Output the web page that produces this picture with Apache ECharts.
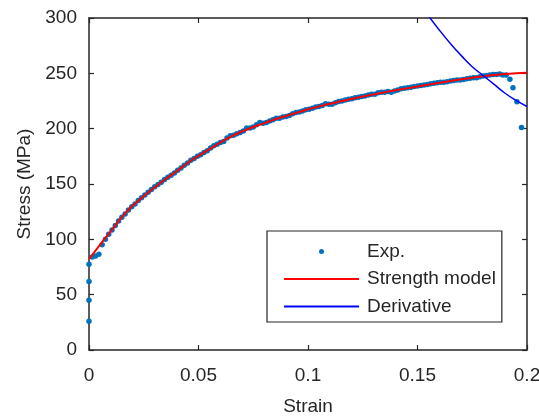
<!DOCTYPE html>
<html>
<head>
<meta charset="utf-8">
<script src="https://cdn.jsdelivr.net/npm/echarts@6/dist/echarts.min.js"></script>
<style>
  html, body { margin: 0; padding: 0; background: #fff; }
  #main { width: 539px; height: 417px; }
</style>
</head>
<body>
<div id="main"></div>
<script>
// experimental points (strain, stress in MPa)
var expStrain = [
  0, 0, 0, 0, 0.0015, 0.003, 0.0045, 0.006, 0.0075, 0.009, 0.0105, 0.012, 0.0135, 0.015, 0.0165,
  0.018, 0.0195, 0.021, 0.0225, 0.024, 0.0255, 0.027, 0.0285, 0.03, 0.0315, 0.033, 0.0345, 0.036,
  0.0375, 0.039, 0.0405, 0.042, 0.0435, 0.045, 0.0465, 0.048, 0.0495, 0.051, 0.0525, 0.054, 0.0555,
  0.057, 0.0585, 0.06, 0.0615, 0.063, 0.0645, 0.066, 0.0675, 0.069, 0.0705, 0.072, 0.0735, 0.075,
  0.0765, 0.078, 0.0795, 0.081, 0.0825, 0.084, 0.0855, 0.087, 0.0885, 0.09, 0.0915, 0.093, 0.0945,
  0.096, 0.0975, 0.099, 0.1005, 0.102, 0.1035, 0.105, 0.1065, 0.108, 0.1095, 0.111, 0.1125, 0.114,
  0.1155, 0.117, 0.1185, 0.12, 0.1215, 0.123, 0.1245, 0.126, 0.1275, 0.129, 0.1305, 0.132, 0.1335,
  0.135, 0.1365, 0.138, 0.1395, 0.141, 0.1425, 0.144, 0.1455, 0.147, 0.1485, 0.15, 0.1515, 0.153,
  0.1545, 0.156, 0.1575, 0.159, 0.1605, 0.162, 0.1635, 0.165, 0.1665, 0.168, 0.1695, 0.171, 0.1725,
  0.174, 0.1755, 0.177, 0.1785, 0.18, 0.1815, 0.183, 0.1845, 0.186, 0.1875, 0.189, 0.1905, 0.1922,
  0.1936, 0.1954, 0.1975
];
var expStress = [
  26, 45, 62, 77.5, 84, 85, 86.5, 95, 100, 104.5, 108.5, 112.5, 116.5, 120, 123,
  126.5, 129.5, 132, 135, 137.5, 140, 142.5, 145, 147.5, 149.5, 151.5, 154, 156,
  158, 160, 162.5, 164.5, 167, 169, 171.5, 173, 175, 176.5, 178.5, 180, 182.5,
  184.5, 186, 187.5, 188.5, 191.5, 193.5, 194, 195.5, 196.5, 198, 200.5, 200.5, 201.5,
  203.5, 205.5, 205, 205.5, 207, 208, 209.5, 209.5, 210.5, 211, 212, 213.5, 214.5,
  215, 216, 217, 217.5, 218.5, 219.5, 220, 221, 222.5, 222, 222, 223.5, 224.5,
  225, 226, 226.5, 227, 228, 228.5, 229, 229.5, 230.5, 231, 231, 232.5, 233,
  233, 233.5, 233, 234, 235, 236, 236.5, 237, 237.5, 238, 238.5, 239, 239.5,
  240, 240.5, 241, 241.5, 242, 242, 242.5, 243, 243.5, 244, 244, 244.5, 245,
  245.5, 246, 246, 247, 247.5, 248, 248.5, 249, 249, 249.5, 248.5, 248.5, 244.6,
  237, 224.4, 201
];

// strength model curve
var modelStrain = [0, 0.005, 0.01, 0.015, 0.02, 0.025, 0.03, 0.035, 0.04, 0.045, 0.05, 0.055, 0.06,
  0.065, 0.07, 0.075, 0.08, 0.085, 0.09, 0.095, 0.1, 0.105, 0.11, 0.115, 0.12, 0.125, 0.13, 0.135,
  0.14, 0.145, 0.15, 0.155, 0.16, 0.165, 0.17, 0.175, 0.18, 0.185, 0.19, 0.195, 0.2];
var modelStress = [82, 95, 107.5, 120, 130.5, 139, 147, 154.5, 161.5, 169, 175.5, 181.5, 187.5,
  193, 197.5, 201.5, 205, 208.5, 211.5, 214.5, 217.5, 220, 222.5, 224.7, 227, 229, 231, 233,
  234.8, 236.4, 238.1, 239.8, 241.4, 243, 244.6, 246, 247.3, 248.4, 249.3, 250, 250.6];

// derivative curve
var derivStrain = [0.155, 0.16, 0.165, 0.17, 0.175, 0.18, 0.185, 0.19, 0.195, 0.2];
var derivStress = [302, 289, 277, 266, 256, 248, 240, 232, 225.5, 220];

var xTicks = { min: 0, max: 0.2, interval: 0.05 };
var yTicks = { min: 0, max: 300, interval: 50 };

function pairs(xs, ys) {
  return xs.map(function (x, i) { return [x, ys[i]]; });
}

var textColor = '#262626';
var fontFam = '"Liberation Sans", Arial, Helvetica, sans-serif';

function mkAxis(ticks, pos, showLabel, extra) {
  var ax = {
    type: 'value',
    position: pos,
    min: ticks.min,
    max: ticks.max,
    interval: ticks.interval,
    splitLine: { show: false },
    axisLine: { show: true, onZero: false, lineStyle: { color: textColor, width: 1.5 } },
    axisTick: { show: true, inside: true, length: 5, lineStyle: { color: textColor, width: 1.2 } },
    axisLabel: {
      show: showLabel,
      color: textColor,
      fontSize: 19,
      fontFamily: fontFam,
      margin: 12,
      showMinLabel: true,
      showMaxLabel: true
    }
  };
  for (var k in extra) ax[k] = extra[k];
  return ax;
}

var xBottom = mkAxis(xTicks, 'bottom', true, {
  name: 'Strain',
  nameLocation: 'middle',
  nameGap: 47,
  nameTextStyle: { color: textColor, fontSize: 19, fontFamily: fontFam }
});
xBottom.axisLabel.margin = 16;

var yLeft = mkAxis(yTicks, 'left', true, {
  name: 'Stress (MPa)',
  nameLocation: 'middle',
  nameGap: 54,
  nameTextStyle: { color: textColor, fontSize: 19, fontFamily: fontFam }
});
yLeft.axisLabel.padding = [7, 0, 0, 0];

// legend: line entries show only the line, no marker
var hideMarker = { opacity: 0, borderWidth: 0 };

var chart = echarts.init(document.getElementById('main'));
chart.setOption({
  animation: false,
  backgroundColor: '#fff',
  grid: { left: 89, right: 12, top: 18, bottom: 67, containLabel: false, outerBoundsMode: 'none' },
  xAxis: [xBottom, mkAxis(xTicks, 'top', false, {})],
  yAxis: [yLeft, mkAxis(yTicks, 'right', false, {})],
  legend: {
    orient: 'vertical',
    left: 267,
    top: 231,
    padding: [11, 6, 6, 16],
    itemWidth: 75,
    itemHeight: 5,
    itemGap: 8.5,
    backgroundColor: '#fff',
    borderColor: textColor,
    borderWidth: 1.2,
    borderRadius: 0,
    textStyle: { color: textColor, fontSize: 19, lineHeight: 19, fontFamily: fontFam, padding: [0, 0, 0, 3] },
    data: [
      { name: 'Exp.', icon: 'circle' },
      { name: 'Strength model', itemStyle: hideMarker },
      { name: 'Derivative', itemStyle: hideMarker }
    ]
  },
  series: [
    {
      name: 'Exp.',
      type: 'scatter',
      symbolSize: 5.5,
      itemStyle: { color: '#0072BD', opacity: 1 },
      data: pairs(expStrain, expStress)
    },
    {
      name: 'Strength model',
      type: 'line',
      symbol: 'none',
      smooth: true,
      lineStyle: { color: '#FF0000', width: 2 },
      itemStyle: { color: '#FF0000' },
      data: pairs(modelStrain, modelStress)
    },
    {
      name: 'Derivative',
      type: 'line',
      symbol: 'none',
      smooth: true,
      clip: true,
      lineStyle: { color: '#0000FF', width: 1.5 },
      itemStyle: { color: '#0000FF' },
      data: pairs(derivStrain, derivStress)
    }
  ]
});
</script>
</body>
</html>
